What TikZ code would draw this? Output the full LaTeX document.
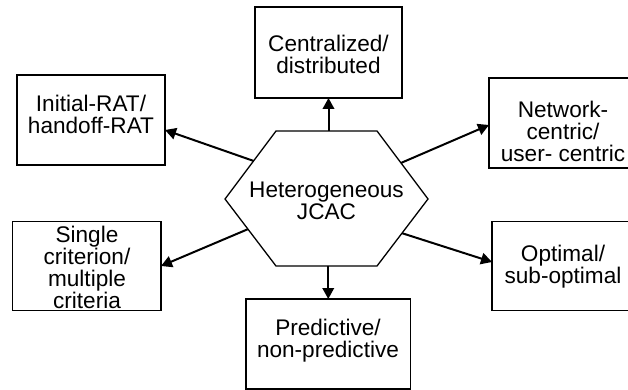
\documentclass[tikz,border=0pt]{standalone}
\usepackage{fontspec}
\setmainfont{Liberation Sans}
\usetikzlibrary{arrows.meta,calc}
\begin{document}
\begin{tikzpicture}[x=1pt,y=-1pt,
  box/.style={draw,line width=1.5pt,inner sep=0pt,outer sep=0pt,anchor=north west},
  lbl/.style={align=center,font=\fontsize{22.6}{22}\selectfont,inner sep=0pt},
  arr/.style={line width=2pt,-{Triangle[length=11pt,width=11.5pt]}},
  hexline/.style={line width=1.3pt,line join=miter}
  ]
\useasboundingbox (0,0) rectangle (628,390);
\begin{scope}
\clip (0,0) rectangle (628,390);
% boxes
\node[box,minimum width=147pt,minimum height=91pt] (cen) at (255,7) {};
\node[box,minimum width=148pt,minimum height=90pt] (ini) at (17,75) {};
\node[box,minimum width=148pt,minimum height=90pt] (net) at (489,78) {};
\node[box,minimum width=148.5pt,minimum height=89pt] (sin) at (12.5,221.5) {};
\node[box,minimum width=143pt,minimum height=89pt] (opt) at (492,221.5) {};
\node[box,minimum width=164.5pt,minimum height=90pt] (pre) at (246,299) {};
% labels
\node[lbl] (cenT) at (328.5,54) {Centralized/\\distributed};
\node[lbl] (iniT) at (91,114) {Initial-RAT/\\handoff-RAT};
\node[lbl] (netT) at (563,131.5) {Network-\\centric/\\user- centric};
\node[lbl] (sinT) at (87,267.5) {Single\\criterion/\\multiple\\criteria};
\node[lbl] (optT) at (563,266.7) {Optimal/\\sub-optimal};
\node[lbl] (preT) at (328,341) {Predictive/\\non-predictive};
% hexagon
\coordinate (hL) at (225,199);
\coordinate (hTL) at (276,131);
\coordinate (hTR) at (377,131);
\coordinate (hR) at (428,199);
\coordinate (hBR) at (377,266);
\coordinate (hBL) at (276,266);
\draw[hexline] (hL) -- (hTL) -- (hTR) -- (hR) -- (hBR) -- (hBL) -- cycle;
\node[lbl] (hex) at (326.5,201) {Heterogeneous\\JCAC};
% start points on hexagon edges
\coordinate (s1) at ($(hL)!0.56!(hTL)$);
\coordinate (s2) at ($(hR)!0.53!(hTR)$);
\coordinate (s3) at ($(hL)!0.45!(hBL)$);
\coordinate (s4) at ($(hR)!0.51!(hBR)$);
% arrows
\draw[arr] (cen.south |- hTL) -- (cen.south);
\draw[arr] (s1) -- ($(ini.east)+(0,10)$);
\draw[arr] (s2) -- ($(net.west)+(0,2)$);
\draw[arr] (s3) -- (sin.east);
\draw[arr] (s4) -- ($(opt.west)+(0,-4)$);
\draw[arr] (pre.north |- hBL) -- (pre.north);
\end{scope}
\end{tikzpicture}
\end{document}
